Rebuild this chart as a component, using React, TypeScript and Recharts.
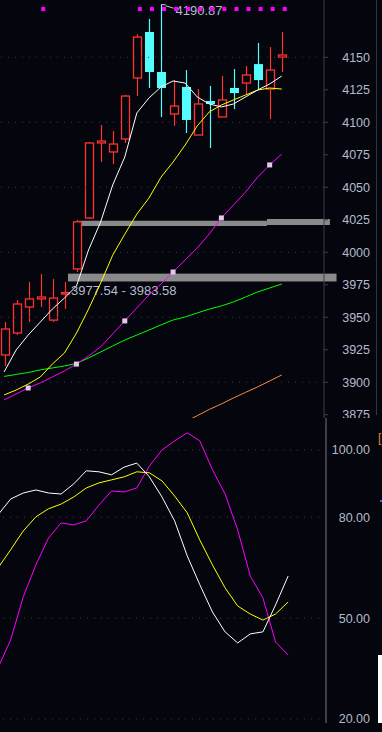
import { ComposedChart, Bar, Line, XAxis, YAxis, ReferenceArea, ReferenceLine } from 'recharts';

const BG = '#04050d';
const AXIS = '#3c3f48';
const GRID = '#3a3d48';
const TEXT = '#b4bcca';
const UP = '#ff3232';
const DOWN = '#54fcfc';
const BAND = '#8a8a8a';
const FONT = '"Liberation Sans", Arial, sans-serif';
const LABEL_RIGHT = 370;

// daily candles
const opens = [3921.0, 3937.9, 3957.9, 3964.1, 3947.8, 3968.3, 3987.2, 4026.4, 4084.1, 4077.2, 4087.2, 4134.1,
  4169.5, 4138.7, 4106.4, 4127.2, 4090.2, 4116.4, 4104.1, 4126.4, 4130.2, 4144.8, 4125.6, 4150.2];
const highs = [3946.4, 3963.3, 3977.2, 3983.3, 3979.5, 3977.2, 4024.9, 4084.8, 4097.9, 4093.3, 4121.0, 4167.9,
  4179.5, 4190.87, 4132.5, 4140.2, 4125.6, 4128.0, 4135.6, 4141.0, 4143.3, 4161.0, 4157.9, 4169.5];
const lows = [3912.5, 3936.4, 3946.4, 3957.9, 3946.4, 3956.4, 3984.8, 4025.6, 4069.5, 4067.9, 4084.1, 4120.2,
  4126.4, 4104.1, 4097.2, 4091.8, 4090.2, 4080.2, 4104.1, 4110.2, 4121.0, 4125.6, 4102.5, 4138.7];
const closes = [3941.0, 3960.2, 3964.1, 3965.6, 3964.8, 3969.0, 4023.4, 4084.1, 4085.6, 4083.3, 4120.2, 4165.6,
  4138.7, 4126.4, 4112.5, 4101.8, 4114.1, 4114.1, 4117.2, 4122.5, 4136.4, 4132.5, 4140.2, 4151.8];

// moving averages
const ma5 = [3907.9, 3924.8, 3936.3, 3946.3, 3956.3, 3964.8, 3974.0, 4001.8, 4023.3, 4051.8, 4073.3, 4107.2,
  4118.7, 4127.2, 4131.8, 4130.2, 4119.5, 4114.1, 4111.8, 4114.1, 4119.5, 4124.8, 4129.5, 4135.6];
const ma10 = [3890.2, 3894.0, 3898.6, 3904.0, 3914.0, 3922.5, 3937.8, 3956.3, 3976.3, 3997.8, 4013.9, 4029.4,
  4041.7, 4057.8, 4069.4, 4082.5, 4097.2, 4108.0, 4113.3, 4117.2, 4121.0, 4124.8, 4126.4, 4125.6];
const ma20 = [3886.4, 3891.0, 3895.6, 3899.5, 3904.0, 3908.7, 3914.0, 3920.2, 3927.2, 3937.2, 3947.2, 3957.2,
  3967.2, 3975.6, 3984.8, 3994.1, 4003.3, 4014.1, 4026.4, 4036.4, 4046.3, 4057.8, 4067.2, 4075.6];
const ma60 = [3904.5, 3906.0, 3907.5, 3909.5, 3911.0, 3912.5, 3914.5, 3918.7, 3923.3, 3927.9, 3932.5, 3936.3,
  3940.2, 3944.1, 3947.9, 3950.2, 3953.3, 3956.3, 3958.7, 3961.8, 3965.6, 3969.5, 3972.5, 3975.6];
const ma120 = [null, null, null, null, null, null, null, null, null, null, null, null,
  null, null, null, 3869.5, 3874.3, 3879.1, 3883.3, 3887.9, 3892.2, 3896.4, 3901.0, 3905.6];
const ma20Marks = [2, 6, 10, 14, 18, 22];
const signalBars = [3, 11, 12, 13, 14, 15, 16, 17, 18, 19, 20, 21, 22, 23];

// KDJ
const kLine = [80.7, 85.4, 87.2, 88.1, 87.2, 86.9, 89.9, 93.8, 93.5, 92.6, 94.9, 96.1,
  92.0, 86.0, 78.9, 68.5, 59.9, 51.8, 45.9, 42.6, 45.3, 45.9, 53.9, 62.5];
const dLine = [64.9, 70.3, 75.9, 80.1, 82.5, 83.9, 86.0, 88.7, 90.2, 91.1, 92.0, 93.5,
  93.2, 90.8, 86.3, 81.3, 73.2, 65.8, 59.0, 53.6, 51.2, 49.4, 51.2, 54.8];
const jLine = [35.2, 43.5, 56.3, 65.8, 73.8, 78.3, 77.7, 78.9, 83.6, 87.8, 87.5, 88.7,
  95.2, 100.0, 102.7, 105.1, 102.7, 94.1, 86.9, 76.2, 62.5, 56.0, 42.9, 39.0];

const priceTicks = [3875, 3900, 3925, 3950, 3975, 4000, 4025, 4050, 4075, 4100, 4125, 4150];
const priceGrid = [3900, 3950, 4000, 4050, 4100, 4150];
const kdjTicks = [20, 50, 80, 100];

// support / resistance bands: [from bar, to bar, low, high]
const zoneLow = [5.58, 27, 3977.54, 3983.58];
const zoneHigh = [6.46, 21.45, 4020.3, 4024.3];
const zoneHighEnd = [21.45, 26.47, 4021.0, 4025.6];

const SLOTS = 27;
const priceDomain = [3872.5, 4194.1];
const kdjDomain = [18.8, 109.5];

const rows = Array.from({ length: SLOTS }, (_, i) =>
  i < opens.length
    ? {
        i,
        o: opens[i], h: highs[i], l: lows[i], c: closes[i],
        range: [lows[i], highs[i]],
        ma5: ma5[i], ma10: ma10[i], ma20: ma20[i], ma60: ma60[i], ma120: ma120[i],
        sig: signalBars.includes(i) ? highs[i] : null,
        k: kLine[i], d: dLine[i], j: jLine[i],
      }
    : { i }
);

const maxIdx = highs.indexOf(Math.max(...highs));

function Candle(props: any) {
  const { x, y, width, height, payload } = props;
  if (!payload || payload.h == null) return <g />;
  const top = Math.min(y, y + height);
  const bottom = Math.max(y, y + height);
  const span = payload.h - payload.l || 1;
  const toY = (v: number) => top + ((payload.h - v) / span) * (bottom - top);
  const cx = Math.round(x + width / 2) + 0.5;
  const up = payload.c >= payload.o;
  const yt = toY(Math.max(payload.o, payload.c));
  const yb = toY(Math.min(payload.o, payload.c));
  const bh = Math.max(yb - yt, 1.5);
  return (
    <g>
      {up ? (
        <g>
          <line x1={cx} x2={cx} y1={top} y2={yt} stroke={UP} strokeWidth={1.2} />
          <line x1={cx} x2={cx} y1={yt + bh} y2={bottom} stroke={UP} strokeWidth={1.2} />
          <rect x={cx - 4} y={yt} width={8} height={bh} fill={BG} stroke={UP} strokeWidth={1.3} />
        </g>
      ) : (
        <g>
          <line x1={cx} x2={cx} y1={top} y2={bottom} stroke={DOWN} strokeWidth={1.2} />
          <rect x={cx - 4.5} y={yt} width={9} height={bh} fill={DOWN} />
        </g>
      )}
      {payload.i === maxIdx && (
        <g>
          <path d={`M${cx},${top + 0.5} H${cx + 4} M${cx + 4},${top + 1.5} L${cx + 12},${top + 4}`} stroke="#c8c8cc" fill="none" strokeWidth={1} />
          <text x={cx + 14} y={top + 11} fill={TEXT} fontSize={13} fontFamily={FONT}>{payload.h.toFixed(2)}</text>
        </g>
      )}
    </g>
  );
}

const PriceTick = ({ y, payload }: any) => (
  <text x={LABEL_RIGHT} y={y + 4.5} textAnchor="end" fill={TEXT} fontSize={12.5} fontFamily={FONT}>
    {payload.value}
  </text>
);

const KdjTick = ({ y, payload }: any) => (
  <text x={LABEL_RIGHT} y={y + 4.5} textAnchor="end" fill={TEXT} fontSize={12.5} fontFamily={FONT}>
    {Number(payload.value).toFixed(2)}
  </text>
);

// gray band with its price-range caption underneath
const ZoneShape = (p: any) => (
  <g>
    <rect x={p.x} y={p.y} width={p.width} height={p.height} fill={BAND} />
    <text x={p.x + 3} y={p.y + p.height + 14} fill={TEXT} fontSize={13} fontFamily={FONT}>
      {`${zoneLow[2].toFixed(2)} - ${zoneLow[3].toFixed(2)}`}
    </text>
  </g>
);

export default function App() {
  return (
    <div style={{ position: 'fixed', left: 0, top: 0, width: 382, height: 732, background: BG, overflow: 'hidden' }}>
      <ComposedChart width={382} height={418} data={rows} margin={{ top: 0, right: 0, bottom: 0, left: -2 }}>
        <XAxis dataKey="i" type="category" hide />
        <XAxis xAxisId="num" type="number" domain={[0, 26]} allowDataOverflow hide />
        <YAxis
          orientation="right"
          width={58}
          domain={priceDomain}
          allowDataOverflow
          ticks={priceTicks}
          interval={0}
          tickSize={4}
          axisLine={{ stroke: AXIS }}
          tickLine={{ stroke: AXIS }}
          tick={<PriceTick />}
        />
        {priceGrid.map((v) => (
          <ReferenceLine key={v} y={v} stroke={GRID} strokeDasharray="1 6" />
        ))}
        <Line dataKey="ma120" stroke="#ff8844" strokeWidth={1} dot={false} activeDot={false} isAnimationActive={false} />
        <Line dataKey="ma60" stroke="#00ff00" strokeWidth={1} dot={false} activeDot={false} isAnimationActive={false} />
        <Line
          dataKey="ma20"
          stroke="#ff00ff"
          strokeWidth={1}
          activeDot={false}
          isAnimationActive={false}
          dot={(p: any) =>
            ma20Marks.includes(p.index) ? (
              <rect key={p.index} x={p.cx - 2.5} y={p.cy - 2.5} width={5} height={5} fill="#e6c8ea" />
            ) : (
              <g key={p.index} />
            )
          }
        />
        <Line dataKey="ma10" stroke="#ffff00" strokeWidth={1} dot={false} activeDot={false} isAnimationActive={false} />
        <Line dataKey="ma5" stroke="#ffffff" strokeWidth={1} dot={false} activeDot={false} isAnimationActive={false} />
        <ReferenceArea
          xAxisId="num"
          x1={zoneLow[0]}
          x2={zoneLow[1]}
          y1={zoneLow[2]}
          y2={zoneLow[3]}
          ifOverflow="hidden"
          shape={ZoneShape}
        />
        <ReferenceArea xAxisId="num" x1={zoneHigh[0]} x2={zoneHigh[1]} y1={zoneHigh[2]} y2={zoneHigh[3]} fill={BAND} fillOpacity={1} />
        <ReferenceArea xAxisId="num" x1={zoneHighEnd[0]} x2={zoneHighEnd[1]} y1={zoneHighEnd[2]} y2={zoneHighEnd[3]} fill={BAND} fillOpacity={1} ifOverflow="visible" />
        <Bar dataKey="range" barSize={9} isAnimationActive={false} shape={(p: any) => <Candle {...p} />} />
        <Line
          dataKey="sig"
          stroke="none"
          activeDot={false}
          isAnimationActive={false}
          dot={(p: any) =>
            p.value != null ? (
              <rect key={p.index} x={p.cx + 1} y={7} width={4} height={4} fill="#ff00ff" />
            ) : (
              <g key={p.index} />
            )
          }
        />
      </ComposedChart>
      <ComposedChart width={382} height={314} data={rows} margin={{ top: 0, right: 0, bottom: 9, left: -2 }}>
        <XAxis dataKey="i" type="category" hide />
        <YAxis
          orientation="right"
          width={56}
          domain={kdjDomain}
          allowDataOverflow
          ticks={kdjTicks}
          interval={0}
          tickLine={false}
          axisLine={{ stroke: AXIS, strokeWidth: 2 }}
          tick={<KdjTick />}
        />
        {kdjTicks.map((v) => (
          <ReferenceLine key={v} y={v} stroke={GRID} strokeDasharray="1 6" />
        ))}
        <Line dataKey="j" stroke="#ff00ff" strokeWidth={1} dot={false} activeDot={false} isAnimationActive={false} />
        <Line dataKey="d" stroke="#ffff00" strokeWidth={1} dot={false} activeDot={false} isAnimationActive={false} />
        <Line dataKey="k" stroke="#ffffff" strokeWidth={1} dot={false} activeDot={false} isAnimationActive={false} />
      </ComposedChart>
      <div style={{ position: 'absolute', left: 376, top: 0, width: 1, height: 415, background: '#34363e' }} />
      <div style={{ position: 'absolute', left: 378, top: 431, color: '#e08a30', font: `12px ${FONT}` }}>[</div>
      <div style={{ position: 'absolute', left: 380, top: 500, width: 2, height: 2, background: '#3060ff' }} />
      <div style={{ position: 'absolute', left: 378, top: 655, width: 4, height: 68, background: '#ffffff' }} />
    </div>
  );
}
